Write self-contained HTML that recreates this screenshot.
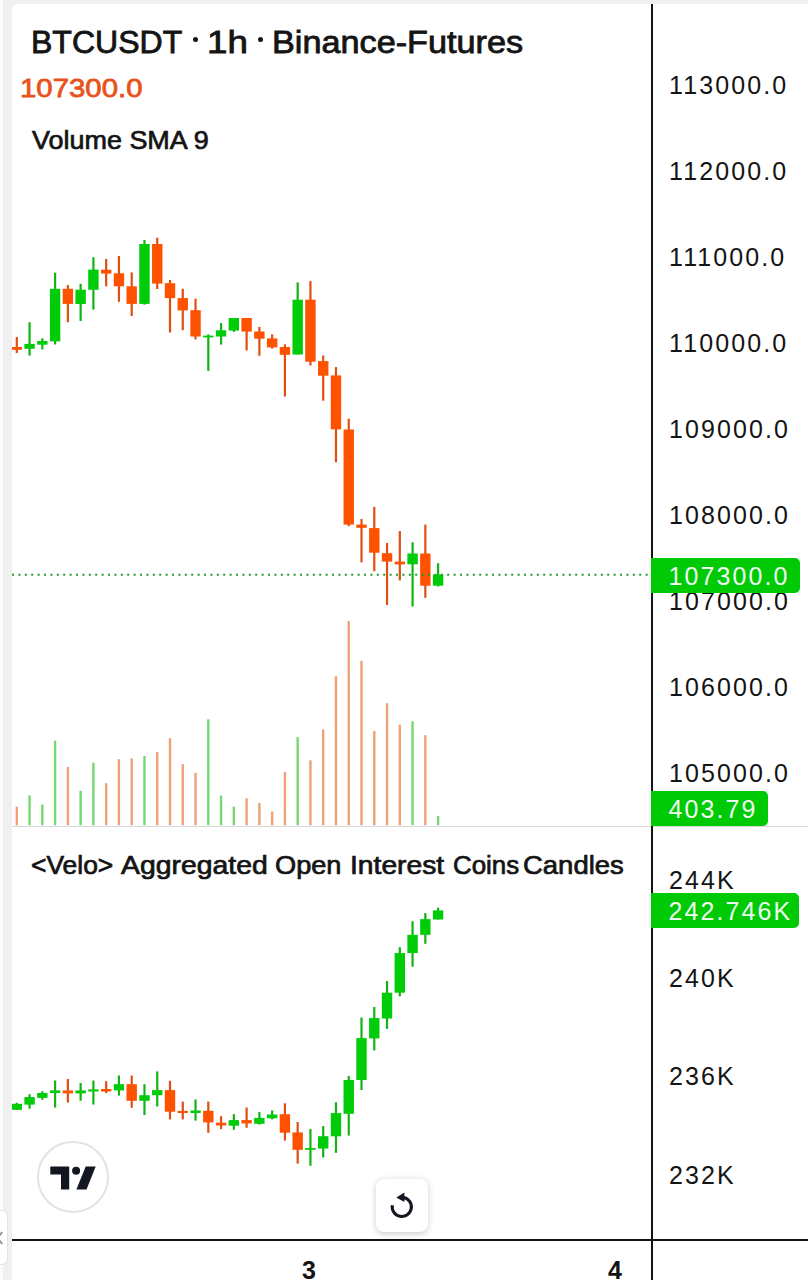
<!DOCTYPE html>
<html><head><meta charset="utf-8">
<style>
*{margin:0;padding:0;box-sizing:border-box}
html,body{width:808px;height:1280px;overflow:hidden;background:#f0f0f0;font-family:"Liberation Sans",sans-serif;}
.frame{position:absolute;left:0;top:0;width:3px;height:1280px;background:#fcfcfc}
.panel{position:absolute;left:12px;top:4px;width:796px;height:1276px;background:#fff;border-top-left-radius:6px}
.chart{position:absolute;left:0;top:0}
.t{position:absolute;white-space:nowrap;line-height:1;color:#141414;transform-origin:0 0}
.ax-l{font-size:25px;color:#141414;letter-spacing:2.1px}
.axl{position:absolute;left:651px;top:4px;width:2px;height:1276px;background:#141414}
.hl{position:absolute;left:12px;top:1239px;width:796px;height:2px;background:#141414}
.sep{position:absolute;left:12px;top:826px;width:796px;height:1px;background:#d6d6d6}
.lbl{position:absolute;left:651px;background:#00ca06;border-radius:0 5px 5px 0}
.lbl span{position:absolute;left:17.5px;white-space:nowrap;line-height:1;font-size:25px;letter-spacing:2.1px;color:#effcef}
.logo{position:absolute;left:37px;top:1141px;width:71.5px;height:71.5px;border:2px solid #e2e3e7;border-radius:50%;background:#fff}
.rbtn{position:absolute;left:375.5px;top:1178.5px;width:52px;height:53px;border-radius:8px;background:#fff;box-shadow:0 1.5px 6px rgba(0,0,0,0.2)}
.rbtn svg{position:absolute;left:0;top:0}
.tab{position:absolute;left:-1px;top:1209.5px;width:9px;height:55px;border:1px solid #e3e3e3;border-left:none;border-radius:0 6px 6px 0;background:#fff}
.tab svg{position:absolute;left:0;top:-1px}
.tm{position:absolute;font-weight:700;font-size:25px;line-height:1;color:#141414}
</style></head><body>
<div class="frame"></div>
<div class="panel"></div>
<div class="sep"></div>
<svg class="chart" width="808" height="1280" viewBox="0 0 808 1280">
<defs><clipPath id="pane"><rect x="12" y="0" width="639" height="1280"/></clipPath></defs>
<g clip-path="url(#pane)">
<rect x="15.60" y="806.8" width="2.4" height="18.4" fill="#f0a078"/>
<rect x="28.37" y="795.4" width="2.4" height="29.8" fill="#74d874"/>
<rect x="41.13" y="804.6" width="2.4" height="20.6" fill="#74d874"/>
<rect x="53.90" y="740.7" width="2.4" height="84.5" fill="#74d874"/>
<rect x="66.67" y="766.9" width="2.4" height="58.3" fill="#f0a078"/>
<rect x="79.43" y="790.9" width="2.4" height="34.3" fill="#74d874"/>
<rect x="92.20" y="762.7" width="2.4" height="62.5" fill="#74d874"/>
<rect x="104.97" y="783.2" width="2.4" height="42.0" fill="#f0a078"/>
<rect x="117.74" y="759.2" width="2.4" height="66.0" fill="#f0a078"/>
<rect x="130.50" y="758.4" width="2.4" height="66.8" fill="#f0a078"/>
<rect x="143.27" y="756.0" width="2.4" height="69.2" fill="#74d874"/>
<rect x="156.04" y="752.0" width="2.4" height="73.2" fill="#f0a078"/>
<rect x="168.80" y="738.2" width="2.4" height="87.0" fill="#f0a078"/>
<rect x="181.57" y="764.2" width="2.4" height="61.0" fill="#f0a078"/>
<rect x="194.34" y="772.8" width="2.4" height="52.4" fill="#f0a078"/>
<rect x="207.11" y="719.3" width="2.4" height="105.9" fill="#74d874"/>
<rect x="219.87" y="795.5" width="2.4" height="29.7" fill="#74d874"/>
<rect x="232.64" y="806.6" width="2.4" height="18.6" fill="#74d874"/>
<rect x="245.41" y="798.3" width="2.4" height="26.9" fill="#f0a078"/>
<rect x="258.17" y="802.9" width="2.4" height="22.3" fill="#f0a078"/>
<rect x="270.94" y="811.4" width="2.4" height="13.8" fill="#f0a078"/>
<rect x="283.71" y="772.0" width="2.4" height="53.2" fill="#f0a078"/>
<rect x="296.47" y="737.1" width="2.4" height="88.1" fill="#74d874"/>
<rect x="309.24" y="760.3" width="2.4" height="64.9" fill="#f0a078"/>
<rect x="322.01" y="729.5" width="2.4" height="95.7" fill="#f0a078"/>
<rect x="334.78" y="676.3" width="2.4" height="148.9" fill="#f0a078"/>
<rect x="347.54" y="621.1" width="2.4" height="204.1" fill="#f0a078"/>
<rect x="360.31" y="660.7" width="2.4" height="164.5" fill="#f0a078"/>
<rect x="373.08" y="731.0" width="2.4" height="94.2" fill="#f0a078"/>
<rect x="385.84" y="703.2" width="2.4" height="122.0" fill="#f0a078"/>
<rect x="398.61" y="724.7" width="2.4" height="100.5" fill="#f0a078"/>
<rect x="411.38" y="721.3" width="2.4" height="103.9" fill="#74d874"/>
<rect x="424.14" y="735.2" width="2.4" height="90.0" fill="#f0a078"/>
<rect x="436.91" y="816.1" width="2.4" height="9.1" fill="#74d874"/>
<rect x="15.70" y="337.0" width="2.2" height="16.0" fill="#e04e12"/>
<rect x="11.60" y="347.0" width="10.4" height="2.8" fill="#ff5200"/>
<rect x="28.47" y="322.2" width="2.2" height="33.4" fill="#12b414"/>
<rect x="24.37" y="343.9" width="10.4" height="4.9" fill="#00cc0a"/>
<rect x="41.23" y="338.3" width="2.2" height="11.1" fill="#12b414"/>
<rect x="37.13" y="341.0" width="10.4" height="3.7" fill="#00cc0a"/>
<rect x="54.00" y="272.7" width="2.2" height="71.8" fill="#12b414"/>
<rect x="49.90" y="288.8" width="10.4" height="52.6" fill="#00cc0a"/>
<rect x="66.77" y="285.0" width="2.2" height="37.2" fill="#e04e12"/>
<rect x="62.67" y="288.8" width="10.4" height="15.1" fill="#ff5200"/>
<rect x="79.53" y="283.8" width="2.2" height="37.2" fill="#12b414"/>
<rect x="75.43" y="289.7" width="10.4" height="14.3" fill="#00cc0a"/>
<rect x="92.30" y="257.2" width="2.2" height="52.4" fill="#12b414"/>
<rect x="88.20" y="269.6" width="10.4" height="20.2" fill="#00cc0a"/>
<rect x="105.07" y="259.0" width="2.2" height="27.3" fill="#e04e12"/>
<rect x="100.97" y="269.7" width="10.4" height="3.9" fill="#ff5200"/>
<rect x="117.84" y="256.0" width="2.2" height="45.8" fill="#e04e12"/>
<rect x="113.74" y="273.3" width="10.4" height="13.0" fill="#ff5200"/>
<rect x="130.60" y="272.4" width="2.2" height="43.6" fill="#e04e12"/>
<rect x="126.50" y="286.3" width="10.4" height="17.6" fill="#ff5200"/>
<rect x="143.37" y="239.9" width="2.2" height="64.7" fill="#12b414"/>
<rect x="139.27" y="244.0" width="10.4" height="59.9" fill="#00cc0a"/>
<rect x="156.14" y="237.7" width="2.2" height="51.3" fill="#e04e12"/>
<rect x="152.04" y="244.0" width="10.4" height="39.6" fill="#ff5200"/>
<rect x="168.90" y="279.9" width="2.2" height="52.6" fill="#e04e12"/>
<rect x="164.80" y="283.2" width="10.4" height="14.9" fill="#ff5200"/>
<rect x="181.67" y="288.8" width="2.2" height="41.4" fill="#e04e12"/>
<rect x="177.57" y="298.1" width="10.4" height="12.3" fill="#ff5200"/>
<rect x="194.44" y="298.7" width="2.2" height="40.7" fill="#e04e12"/>
<rect x="190.34" y="310.2" width="10.4" height="26.3" fill="#ff5200"/>
<rect x="207.21" y="334.4" width="2.2" height="36.5" fill="#12b414"/>
<rect x="203.11" y="335.6" width="10.4" height="1.8" fill="#00cc0a"/>
<rect x="219.97" y="323.0" width="2.2" height="21.6" fill="#12b414"/>
<rect x="215.87" y="330.3" width="10.4" height="6.2" fill="#00cc0a"/>
<rect x="232.74" y="318.0" width="2.2" height="13.9" fill="#12b414"/>
<rect x="228.64" y="318.0" width="10.4" height="12.6" fill="#00cc0a"/>
<rect x="245.51" y="318.0" width="2.2" height="32.4" fill="#e04e12"/>
<rect x="241.41" y="318.0" width="10.4" height="13.6" fill="#ff5200"/>
<rect x="258.27" y="326.9" width="2.2" height="28.9" fill="#e04e12"/>
<rect x="254.17" y="331.5" width="10.4" height="7.2" fill="#ff5200"/>
<rect x="271.04" y="334.4" width="2.2" height="14.2" fill="#e04e12"/>
<rect x="266.94" y="338.4" width="10.4" height="9.0" fill="#ff5200"/>
<rect x="283.81" y="344.3" width="2.2" height="52.2" fill="#e04e12"/>
<rect x="279.71" y="347.0" width="10.4" height="7.8" fill="#ff5200"/>
<rect x="296.57" y="282.4" width="2.2" height="72.1" fill="#12b414"/>
<rect x="292.47" y="299.7" width="10.4" height="54.8" fill="#00cc0a"/>
<rect x="309.34" y="281.1" width="2.2" height="84.4" fill="#e04e12"/>
<rect x="305.24" y="299.7" width="10.4" height="62.0" fill="#ff5200"/>
<rect x="322.11" y="355.5" width="2.2" height="45.2" fill="#e04e12"/>
<rect x="318.01" y="361.1" width="10.4" height="14.6" fill="#ff5200"/>
<rect x="334.88" y="367.1" width="2.2" height="95.2" fill="#e04e12"/>
<rect x="330.78" y="375.4" width="10.4" height="53.9" fill="#ff5200"/>
<rect x="347.64" y="418.7" width="2.2" height="107.5" fill="#e04e12"/>
<rect x="343.54" y="429.5" width="10.4" height="95.1" fill="#ff5200"/>
<rect x="360.41" y="519.0" width="2.2" height="43.4" fill="#e04e12"/>
<rect x="356.31" y="524.6" width="10.4" height="3.2" fill="#ff5200"/>
<rect x="373.18" y="506.9" width="2.2" height="64.3" fill="#e04e12"/>
<rect x="369.08" y="528.1" width="10.4" height="24.6" fill="#ff5200"/>
<rect x="385.94" y="543.0" width="2.2" height="62.0" fill="#e04e12"/>
<rect x="381.84" y="553.2" width="10.4" height="8.4" fill="#ff5200"/>
<rect x="398.71" y="531.0" width="2.2" height="49.4" fill="#e04e12"/>
<rect x="394.61" y="561.6" width="10.4" height="2.7" fill="#ff5200"/>
<rect x="411.48" y="542.3" width="2.2" height="64.3" fill="#12b414"/>
<rect x="407.38" y="553.5" width="10.4" height="10.8" fill="#00cc0a"/>
<rect x="424.24" y="524.6" width="2.2" height="73.2" fill="#e04e12"/>
<rect x="420.14" y="553.5" width="10.4" height="32.2" fill="#ff5200"/>
<rect x="437.01" y="563.2" width="2.2" height="23.3" fill="#12b414"/>
<rect x="432.91" y="574.5" width="10.4" height="11.2" fill="#00cc0a"/>
<rect x="15.70" y="1102.8" width="2.2" height="7.2" fill="#12b414"/>
<rect x="11.60" y="1103.8" width="10.4" height="6.0" fill="#00cc0a"/>
<rect x="28.47" y="1094.2" width="2.2" height="14.5" fill="#12b414"/>
<rect x="24.37" y="1097.1" width="10.4" height="7.5" fill="#00cc0a"/>
<rect x="41.23" y="1091.2" width="2.2" height="8.6" fill="#12b414"/>
<rect x="37.13" y="1093.0" width="10.4" height="4.9" fill="#00cc0a"/>
<rect x="54.00" y="1080.5" width="2.2" height="27.0" fill="#12b414"/>
<rect x="49.90" y="1090.4" width="10.4" height="2.6" fill="#00cc0a"/>
<rect x="66.77" y="1079.0" width="2.2" height="23.6" fill="#e04e12"/>
<rect x="62.67" y="1090.4" width="10.4" height="3.0" fill="#ff5200"/>
<rect x="79.53" y="1083.0" width="2.2" height="17.8" fill="#12b414"/>
<rect x="75.43" y="1090.4" width="10.4" height="3.0" fill="#00cc0a"/>
<rect x="92.30" y="1080.5" width="2.2" height="24.1" fill="#12b414"/>
<rect x="88.20" y="1089.4" width="10.4" height="2.1" fill="#00cc0a"/>
<rect x="105.07" y="1081.2" width="2.2" height="11.8" fill="#e04e12"/>
<rect x="100.97" y="1089.0" width="10.4" height="2.5" fill="#ff5200"/>
<rect x="117.84" y="1075.5" width="2.2" height="20.1" fill="#12b414"/>
<rect x="113.74" y="1084.2" width="10.4" height="6.2" fill="#00cc0a"/>
<rect x="130.60" y="1075.6" width="2.2" height="32.2" fill="#e04e12"/>
<rect x="126.50" y="1084.2" width="10.4" height="16.6" fill="#ff5200"/>
<rect x="143.37" y="1084.2" width="2.2" height="30.8" fill="#12b414"/>
<rect x="139.27" y="1095.2" width="10.4" height="5.6" fill="#00cc0a"/>
<rect x="156.14" y="1071.4" width="2.2" height="35.1" fill="#12b414"/>
<rect x="152.04" y="1090.1" width="10.4" height="5.1" fill="#00cc0a"/>
<rect x="168.90" y="1080.8" width="2.2" height="38.6" fill="#e04e12"/>
<rect x="164.80" y="1090.1" width="10.4" height="21.6" fill="#ff5200"/>
<rect x="181.67" y="1101.6" width="2.2" height="17.8" fill="#e04e12"/>
<rect x="177.57" y="1110.9" width="10.4" height="2.1" fill="#ff5200"/>
<rect x="194.44" y="1099.4" width="2.2" height="21.2" fill="#12b414"/>
<rect x="190.34" y="1110.5" width="10.4" height="2.5" fill="#00cc0a"/>
<rect x="207.21" y="1101.6" width="2.2" height="31.2" fill="#e04e12"/>
<rect x="203.11" y="1110.8" width="10.4" height="11.6" fill="#ff5200"/>
<rect x="219.97" y="1116.2" width="2.2" height="12.9" fill="#e04e12"/>
<rect x="215.87" y="1122.7" width="10.4" height="2.8" fill="#ff5200"/>
<rect x="232.74" y="1114.2" width="2.2" height="15.6" fill="#12b414"/>
<rect x="228.64" y="1120.1" width="10.4" height="5.6" fill="#00cc0a"/>
<rect x="245.51" y="1107.5" width="2.2" height="20.3" fill="#e04e12"/>
<rect x="241.41" y="1120.1" width="10.4" height="3.3" fill="#ff5200"/>
<rect x="258.27" y="1111.9" width="2.2" height="12.7" fill="#12b414"/>
<rect x="254.17" y="1117.9" width="10.4" height="5.9" fill="#00cc0a"/>
<rect x="271.04" y="1110.4" width="2.2" height="9.0" fill="#12b414"/>
<rect x="266.94" y="1114.5" width="10.4" height="3.8" fill="#00cc0a"/>
<rect x="283.81" y="1103.3" width="2.2" height="37.3" fill="#e04e12"/>
<rect x="279.71" y="1114.2" width="10.4" height="18.5" fill="#ff5200"/>
<rect x="296.57" y="1122.0" width="2.2" height="41.6" fill="#e04e12"/>
<rect x="292.47" y="1132.4" width="10.4" height="17.4" fill="#ff5200"/>
<rect x="309.34" y="1129.0" width="2.2" height="36.8" fill="#12b414"/>
<rect x="305.24" y="1148.0" width="10.4" height="1.8" fill="#00cc0a"/>
<rect x="322.11" y="1126.1" width="2.2" height="31.4" fill="#12b414"/>
<rect x="318.01" y="1136.2" width="10.4" height="12.3" fill="#00cc0a"/>
<rect x="334.88" y="1102.3" width="2.2" height="50.5" fill="#12b414"/>
<rect x="330.78" y="1113.1" width="10.4" height="23.2" fill="#00cc0a"/>
<rect x="347.64" y="1075.9" width="2.2" height="59.7" fill="#12b414"/>
<rect x="343.54" y="1080.0" width="10.4" height="33.8" fill="#00cc0a"/>
<rect x="360.41" y="1017.5" width="2.2" height="72.5" fill="#12b414"/>
<rect x="356.31" y="1038.1" width="10.4" height="41.9" fill="#00cc0a"/>
<rect x="373.18" y="1007.0" width="2.2" height="43.4" fill="#12b414"/>
<rect x="369.08" y="1018.1" width="10.4" height="20.3" fill="#00cc0a"/>
<rect x="385.94" y="981.0" width="2.2" height="47.9" fill="#12b414"/>
<rect x="381.84" y="992.7" width="10.4" height="25.8" fill="#00cc0a"/>
<rect x="398.71" y="947.2" width="2.2" height="49.2" fill="#12b414"/>
<rect x="394.61" y="953.1" width="10.4" height="39.6" fill="#00cc0a"/>
<rect x="411.48" y="921.2" width="2.2" height="45.5" fill="#12b414"/>
<rect x="407.38" y="934.8" width="10.4" height="18.3" fill="#00cc0a"/>
<rect x="424.24" y="913.1" width="2.2" height="30.7" fill="#12b414"/>
<rect x="420.14" y="919.1" width="10.4" height="15.7" fill="#00cc0a"/>
<rect x="437.01" y="907.7" width="2.2" height="11.8" fill="#12b414"/>
<rect x="432.91" y="910.4" width="10.4" height="9.1" fill="#00cc0a"/>
<line x1="12" y1="574.8" x2="650" y2="574.8" stroke="#1f9a2e" stroke-width="2" stroke-dasharray="2 4.4"/>
</g>
</svg>
<div class="axl"></div>
<div class="hl"></div>
<div class="t" id="t1" style="left:30.8px;top:26.6px;font-size:30.6px;color:#141414;font-weight:400;transform:scaleX(1.047);-webkit-text-stroke:0.8px #141414">BTCUSDT</div>
<div class="t" id="t2" style="left:207.0px;top:26.6px;font-size:30.6px;color:#141414;font-weight:400;transform:scaleX(1.2);-webkit-text-stroke:0.8px #141414">1h</div>
<div class="t" id="t3" style="left:272px;top:26.6px;font-size:30.6px;color:#141414;font-weight:400;transform:scaleX(1.119);-webkit-text-stroke:0.8px #141414">Binance-Futures</div>
<div class="t" id="price" style="left:20.2px;top:75.2px;font-size:26.3px;color:#e8531c;font-weight:400;transform:scaleX(1.117);-webkit-text-stroke:0.8px #e8531c">107300.0</div>
<div class="t" id="vsma" style="left:32.3px;top:127.8px;font-size:25.5px;color:#141414;font-weight:400;transform:scaleX(1.057);-webkit-text-stroke:0.7px #141414">Volume SMA 9</div>
<div class="t" id="velo0" style="left:31.1px;top:852.5px;font-size:25px;color:#141414;font-weight:400;transform:scaleX(1.057);-webkit-text-stroke:0.7px #141414">&lt;Velo&gt;</div>
<div class="t" id="velo1" style="left:120.9px;top:852.5px;font-size:25px;color:#141414;font-weight:400;transform:scaleX(1.135);-webkit-text-stroke:0.7px #141414">Aggregated</div>
<div class="t" id="velo2" style="left:275.3px;top:852.5px;font-size:25px;color:#141414;font-weight:400;transform:scaleX(1.087);-webkit-text-stroke:0.7px #141414">Open</div>
<div class="t" id="velo3" style="left:349.7px;top:852.5px;font-size:25px;color:#141414;font-weight:400;transform:scaleX(1.13);-webkit-text-stroke:0.7px #141414">Interest</div>
<div class="t" id="velo4" style="left:453.4px;top:852.5px;font-size:25px;color:#141414;font-weight:400;transform:scaleX(1.036);-webkit-text-stroke:0.7px #141414">Coins</div>
<div class="t" id="velo5" style="left:522.9px;top:852.5px;font-size:25px;color:#141414;font-weight:400;transform:scaleX(1.099);-webkit-text-stroke:0.7px #141414">Candles</div>
<div style="position:absolute;left:192.9px;top:37.4px;width:5.1px;height:5.1px;border-radius:50%;background:#141414"></div>
<div style="position:absolute;left:257.6px;top:37.4px;width:5.1px;height:5.1px;border-radius:50%;background:#141414"></div>
<div class="t ax-l" style="left:669px;top:72.5px">113000.0</div>
<div class="t ax-l" style="left:669px;top:158.6px">112000.0</div>
<div class="t ax-l" style="left:669px;top:244.7px">111000.0</div>
<div class="t ax-l" style="left:669px;top:330.7px">110000.0</div>
<div class="t ax-l" style="left:669px;top:416.8px">109000.0</div>
<div class="t ax-l" style="left:669px;top:502.8px">108000.0</div>
<div class="t ax-l" style="left:669px;top:588.9px">107000.0</div>
<div class="t ax-l" style="left:669px;top:675.0px">106000.0</div>
<div class="t ax-l" style="left:669px;top:761.0px">105000.0</div>
<div class="t ax-l" style="left:669px;top:867.7px">244K</div>
<div class="t ax-l" style="left:669px;top:966.2px">240K</div>
<div class="t ax-l" style="left:669px;top:1064.4px">236K</div>
<div class="t ax-l" style="left:669px;top:1162.6px">232K</div>
<div class="lbl" style="top:557.5px;width:149px;height:35px"><span style="top:6px">107300.0</span></div>
<div class="lbl" style="top:790.5px;width:117px;height:35.5px"><span style="top:6px">403.79</span></div>
<div class="lbl" style="top:893.3px;width:148px;height:35px"><span style="top:6px">242.746K</span></div>
<div class="tm" style="left:302px;top:1258px">3</div>
<div class="logo"></div><svg width="55" height="35" viewBox="0 0 55 35" style="position:absolute;left:45px;top:1160px"><path d="M5.3 6.5H24.2V29.6H16V14.6H5.3Z" fill="#131722"/><circle cx="31.1" cy="10.7" r="4" fill="#131722"/><path d="M40.7 6.5H50.7L41.5 29.6H31.4Z" fill="#131722"/></svg>
<div class="rbtn"><svg width="52" height="53" viewBox="0 0 52 53"><path d="M27.5 18.45 A9.6 9.6 0 1 1 16.35 26.2" fill="none" stroke="#131722" stroke-width="3.1"/><path d="M20.3 18.4 L28.4 13.5 L28.4 23.1 Z" fill="#131722"/></svg></div>
<div class="tab"><svg width="8" height="56" viewBox="0 0 8 56"><path d="M3.2 22 L-1.5 28 L3.2 34" fill="none" stroke="#8d9a9a" stroke-width="2"/></svg></div>
<div class="tm" style="left:608px;top:1258px">4</div>
</body></html>
